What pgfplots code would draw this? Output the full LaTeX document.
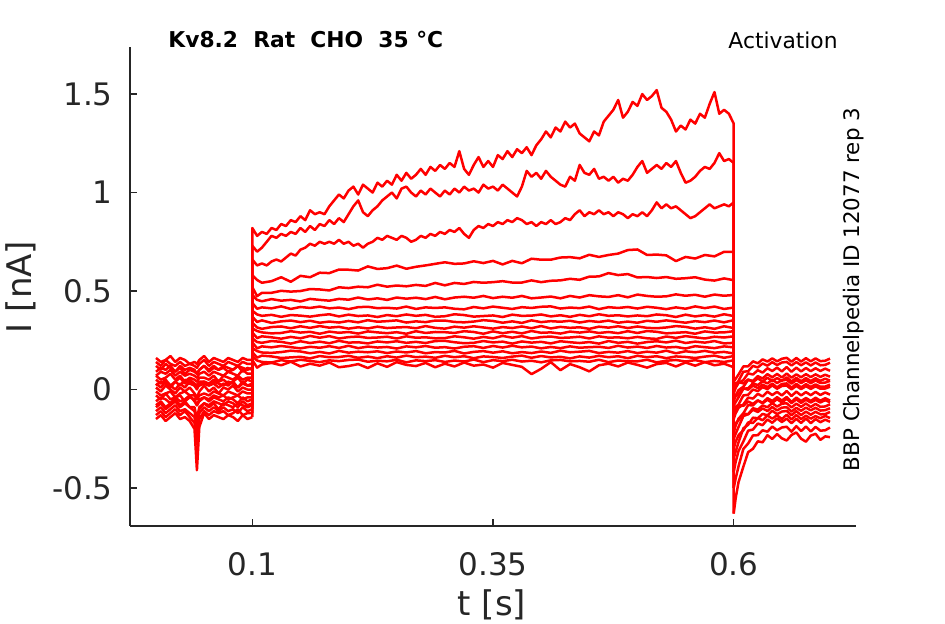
\documentclass[border=0pt]{standalone}
\usepackage{fontspec}
\setmainfont{DejaVu Sans}
\usepackage{pgfplots}
\usepackage{pgfplotstable}
\pgfplotsset{compat=1.18}
\definecolor{tc}{HTML}{262626}
\pgfplotsset{tr/.style={red, solid, line width=1.25pt, line join=round, mark=none}}

\pgfplotstableread{
x p1 p2 p3 p4 p5 p6 p7 p8 p9 p10 p11 p12 p13 p14 p15 p16 p17 p18
0.000 0.03 -0.06 0.09 -0.13 0.07 -0.01 0.14 -0.09 0.05 -0.15 0.07 0.01 -0.11 0.16 -0.03 0.12 -0.08 0.02
0.005 0.01 -0.04 0.11 -0.11 0.05 -0.03 0.12 -0.07 0.03 -0.13 0.09 -0.01 -0.09 0.14 -0.05 0.10 -0.06 0.04
0.010 0.04 -0.05 0.10 -0.14 0.06 -0.02 0.15 -0.10 0.05 -0.16 0.08 0.02 -0.12 0.15 -0.02 0.13 -0.09 0.03
0.015 0.02 -0.07 0.12 -0.12 0.08 -0.01 0.13 -0.08 0.02 -0.14 0.10 0.00 -0.10 0.17 -0.05 0.11 -0.07 0.01
0.020 0.00 -0.04 0.09 -0.10 0.05 -0.04 0.12 -0.06 0.04 -0.12 0.07 -0.02 -0.08 0.14 -0.04 0.09 -0.05 0.04
0.025 0.03 -0.06 0.11 -0.13 0.07 -0.02 0.14 -0.09 0.06 -0.15 0.09 0.01 -0.11 0.16 -0.03 0.12 -0.08 0.02
0.030 0.01 -0.05 0.08 -0.11 0.04 -0.01 0.12 -0.07 0.03 -0.14 0.07 -0.01 -0.10 0.15 -0.06 0.10 -0.06 0.05
0.035 0.04 -0.03 0.10 -0.14 0.06 -0.03 0.13 -0.09 0.05 -0.16 0.08 0.01 -0.12 0.13 -0.04 0.11 -0.09 0.03
0.040 0.02 -0.06 0.09 -0.17 0.05 -0.03 0.12 -0.11 0.03 -0.20 0.07 -0.02 -0.14 0.14 -0.05 0.10 -0.09 0.02
0.0425 0.01 -0.08 0.08 -0.28 0.04 -0.05 0.11 -0.17 0.02 -0.41 0.06 -0.04 -0.23 0.13 -0.08 0.08 -0.15 0.00
0.045 0.02 -0.06 0.10 -0.15 0.06 -0.03 0.13 -0.10 0.04 -0.19 0.08 -0.01 -0.12 0.15 -0.05 0.10 -0.09 0.03
0.050 0.03 -0.04 0.12 -0.11 0.06 -0.02 0.15 -0.07 0.04 -0.12 0.09 0.02 -0.09 0.17 -0.04 0.12 -0.07 0.04
0.055 0.02 -0.06 0.09 -0.13 0.05 -0.03 0.12 -0.09 0.03 -0.15 0.07 -0.01 -0.11 0.14 -0.05 0.10 -0.08 0.02
0.060 0.03 -0.04 0.11 -0.11 0.07 -0.01 0.14 -0.07 0.05 -0.13 0.09 0.01 -0.09 0.16 -0.03 0.12 -0.06 0.04
0.065 0.01 -0.05 0.10 -0.12 0.04 -0.02 0.13 -0.10 0.04 -0.14 0.08 -0.02 -0.11 0.15 -0.04 0.10 -0.07 0.03
0.070 0.03 -0.06 0.11 -0.11 0.07 -0.03 0.12 -0.07 0.05 -0.15 0.07 0.01 -0.09 0.14 -0.03 0.12 -0.08 0.02
0.075 0.02 -0.04 0.09 -0.13 0.06 -0.01 0.14 -0.08 0.03 -0.13 0.09 0.00 -0.11 0.16 -0.05 0.11 -0.06 0.04
0.080 0.04 -0.05 0.10 -0.12 0.05 -0.02 0.13 -0.09 0.04 -0.14 0.08 0.02 -0.10 0.15 -0.04 0.10 -0.07 0.03
0.085 0.01 -0.07 0.12 -0.10 0.07 -0.03 0.12 -0.07 0.06 -0.16 0.07 -0.01 -0.12 0.14 -0.03 0.12 -0.09 0.01
0.090 0.03 -0.04 0.09 -0.13 0.05 -0.01 0.14 -0.08 0.03 -0.13 0.10 0.01 -0.09 0.16 -0.05 0.11 -0.06 0.04
0.095 0.02 -0.06 0.11 -0.12 0.06 -0.02 0.13 -0.09 0.05 -0.15 0.08 0.00 -0.11 0.15 -0.04 0.10 -0.08 0.02
0.100 0.02 -0.05 0.10 -0.12 0.06 -0.02 0.13 -0.08 0.04 -0.14 0.08 0.00 -0.10 0.15 -0.04 0.11 -0.07 0.03
}\pre

\pgfplotstableread{
x s1 s2 s3
0.1 0.02 -0.05 0.10
0.1 0.82 0.73 0.66
0.105 0.78 0.70 0.63
0.11 0.80 0.72 0.64
0.115 0.79 0.75 0.63
0.12 0.82 0.78 0.65
0.125 0.81 0.77 0.66
0.13 0.84 0.79 0.65
0.135 0.83 0.78 0.67
0.14 0.86 0.80 0.69
0.145 0.85 0.79 0.68
0.15 0.88 0.82 0.71
0.155 0.86 0.80 0.72
0.16 0.91 0.83 0.74
0.165 0.89 0.81 0.73
0.17 0.90 0.84 0.75
0.175 0.89 0.83 0.74
0.18 0.93 0.86 0.75
0.185 0.96 0.84 0.74
0.19 0.99 0.87 0.76
0.195 0.97 0.85 0.74
0.2 1.01 0.89 0.75
0.205 1.03 0.93 0.73
0.21 0.99 0.96 0.74
0.215 1.04 0.90 0.72
0.22 1.02 0.88 0.74
0.225 1.00 0.91 0.75
0.23 1.05 0.93 0.77
0.235 1.03 0.96 0.76
0.24 1.06 0.98 0.78
0.245 1.04 1.00 0.77
0.25 1.09 0.97 0.76
0.255 1.06 1.02 0.78
0.26 1.10 1.03 0.77
0.265 1.07 1.00 0.75
0.27 1.09 0.98 0.76
0.275 1.12 1.01 0.78
0.28 1.09 0.99 0.77
0.285 1.13 1.02 0.79
0.29 1.11 1.00 0.78
0.295 1.14 0.98 0.80
0.3 1.12 1.01 0.79
0.305 1.15 0.99 0.81
0.31 1.13 1.02 0.80
0.315 1.21 1.00 0.82
0.32 1.12 1.03 0.79
0.325 1.09 1.01 0.77
0.33 1.14 1.02 0.81
0.335 1.18 1.00 0.83
0.34 1.13 1.04 0.82
0.345 1.16 1.02 0.84
0.35 1.13 1.03 0.83
0.355 1.19 1.01 0.85
0.36 1.17 1.04 0.84
0.365 1.21 1.02 0.86
0.37 1.18 1.00 0.85
0.375 1.22 0.98 0.87
0.38 1.20 1.03 0.86
0.385 1.23 1.11 0.84
0.39 1.19 1.08 0.85
0.395 1.24 1.10 0.83
0.4 1.27 1.07 0.85
0.405 1.31 1.11 0.84
0.41 1.28 1.08 0.86
0.415 1.33 1.06 0.84
0.42 1.31 1.04 0.85
0.425 1.36 1.03 0.87
0.43 1.33 1.08 0.86
0.435 1.35 1.06 0.89
0.44 1.30 1.14 0.91
0.445 1.28 1.10 0.88
0.45 1.26 1.09 0.90
0.455 1.31 1.12 0.89
0.46 1.29 1.07 0.91
0.465 1.36 1.08 0.89
0.47 1.39 1.06 0.90
0.475 1.42 1.08 0.88
0.48 1.47 1.05 0.90
0.485 1.38 1.07 0.89
0.49 1.41 1.06 0.87
0.495 1.46 1.09 0.89
0.5 1.44 1.13 0.88
0.505 1.50 1.16 0.90
0.51 1.47 1.10 0.88
0.515 1.49 1.12 0.91
0.52 1.52 1.14 0.95
0.525 1.43 1.12 0.92
0.53 1.41 1.15 0.94
0.535 1.37 1.13 0.92
0.54 1.31 1.16 0.93
0.545 1.34 1.10 0.91
0.55 1.32 1.05 0.89
0.555 1.37 1.06 0.87
0.56 1.35 1.08 0.88
0.565 1.40 1.11 0.90
0.57 1.38 1.13 0.92
0.575 1.45 1.12 0.94
0.58 1.51 1.15 0.92
0.585 1.40 1.20 0.93
0.59 1.42 1.16 0.94
0.595 1.40 1.17 0.93
0.6 1.35 1.15 0.95
0.6 -0.63 -0.50 -0.42
}\stepA

\pgfplotstableread{
x s4 s5 s6 s7 s8 s9 s10 s11 s12 s13 s14 s15 s16 s17 s18
0.1 -0.12 0.06 -0.02 0.13 -0.08 0.04 -0.14 0.08 0.00 -0.10 0.15 -0.04 0.11 -0.07 0.03
0.1 0.58 0.52 0.48 0.44 0.40 0.37 0.34 0.31 0.29 0.26 0.24 0.21 0.19 0.17 0.15
0.105 0.556 0.474 0.455 0.410 0.381 0.343 0.315 0.297 0.261 0.241 0.209 0.195 0.162 0.147 0.111
0.11 0.542 0.491 0.448 0.417 0.374 0.351 0.308 0.290 0.270 0.237 0.219 0.188 0.172 0.140 0.127
0.12 0.550 0.491 0.459 0.412 0.379 0.338 0.317 0.285 0.265 0.246 0.214 0.186 0.168 0.137 0.135
0.13 0.570 0.501 0.451 0.422 0.369 0.346 0.320 0.287 0.258 0.242 0.221 0.190 0.160 0.149 0.123
0.14 0.547 0.497 0.455 0.409 0.378 0.350 0.311 0.296 0.267 0.233 0.215 0.197 0.163 0.142 0.141
0.15 0.577 0.500 0.447 0.419 0.375 0.342 0.321 0.289 0.260 0.245 0.209 0.193 0.166 0.151 0.117
0.16 0.570 0.510 0.460 0.414 0.370 0.349 0.313 0.293 0.272 0.236 0.217 0.184 0.158 0.145 0.131
0.17 0.593 0.508 0.455 0.421 0.377 0.339 0.322 0.283 0.263 0.243 0.212 0.191 0.170 0.139 0.121
0.18 0.591 0.503 0.451 0.412 0.382 0.345 0.314 0.294 0.271 0.235 0.220 0.183 0.164 0.148 0.137
0.19 0.609 0.519 0.460 0.416 0.371 0.340 0.318 0.288 0.259 0.247 0.211 0.196 0.165 0.144 0.113
0.20 0.608 0.515 0.456 0.408 0.380 0.348 0.309 0.292 0.266 0.238 0.222 0.187 0.171 0.150 0.119
0.21 0.604 0.522 0.467 0.418 0.373 0.341 0.316 0.284 0.269 0.240 0.210 0.192 0.161 0.152 0.129
0.22 0.625 0.519 0.457 0.420 0.376 0.352 0.310 0.295 0.262 0.234 0.218 0.189 0.167 0.141 0.109
0.23 0.612 0.532 0.463 0.413 0.368 0.344 0.319 0.290 0.264 0.244 0.213 0.194 0.159 0.146 0.133
0.24 0.616 0.522 0.455 0.415 0.378 0.347 0.312 0.286 0.268 0.239 0.216 0.185 0.169 0.143 0.115
0.25 0.629 0.528 0.467 0.411 0.372 0.351 0.315 0.291 0.259 0.245 0.208 0.193 0.162 0.151 0.139
0.26 0.613 0.524 0.461 0.421 0.381 0.340 0.317 0.283 0.270 0.237 0.219 0.188 0.172 0.138 0.125
0.27 0.623 0.531 0.466 0.409 0.374 0.346 0.311 0.296 0.263 0.242 0.214 0.195 0.164 0.148 0.119
0.28 0.630 0.526 0.459 0.417 0.379 0.342 0.322 0.287 0.265 0.236 0.221 0.184 0.167 0.144 0.135
0.29 0.638 0.541 0.470 0.414 0.369 0.350 0.313 0.292 0.260 0.246 0.212 0.190 0.161 0.149 0.113
0.30 0.646 0.529 0.458 0.417 0.372 0.350 0.309 0.291 0.261 0.247 0.215 0.188 0.171 0.140 0.131
0.31 0.638 0.541 0.467 0.410 0.382 0.343 0.319 0.287 0.270 0.240 0.208 0.196 0.164 0.147 0.117
0.32 0.640 0.536 0.471 0.407 0.378 0.341 0.314 0.296 0.265 0.235 0.217 0.183 0.169 0.142 0.137
0.33 0.651 0.546 0.466 0.419 0.370 0.345 0.321 0.292 0.258 0.237 0.220 0.191 0.159 0.152 0.121
0.34 0.642 0.542 0.475 0.412 0.373 0.352 0.315 0.283 0.267 0.246 0.211 0.195 0.168 0.139 0.127
0.35 0.653 0.545 0.464 0.421 0.376 0.348 0.309 0.295 0.260 0.239 0.221 0.187 0.165 0.149 0.111
0.36 0.635 0.550 0.471 0.415 0.368 0.339 0.317 0.286 0.272 0.243 0.213 0.194 0.160 0.144 0.135
0.37 0.653 0.543 0.466 0.409 0.380 0.346 0.312 0.293 0.263 0.233 0.222 0.184 0.167 0.151 0.125
0.38 0.641 0.543 0.475 0.418 0.374 0.338 0.320 0.285 0.271 0.244 0.214 0.190 0.172 0.142 0.115
0.39 0.664 0.554 0.463 0.414 0.375 0.351 0.311 0.297 0.259 0.238 0.218 0.185 0.161 0.146 0.078
0.40 0.659 0.545 0.467 0.420 0.381 0.342 0.322 0.288 0.266 0.242 0.209 0.193 0.170 0.138 0.105
0.41 0.659 0.552 0.472 0.422 0.371 0.347 0.310 0.290 0.269 0.234 0.216 0.186 0.163 0.148 0.139
0.42 0.670 0.554 0.463 0.411 0.377 0.344 0.318 0.284 0.262 0.245 0.210 0.197 0.166 0.150 0.098
0.43 0.672 0.562 0.475 0.416 0.369 0.349 0.313 0.294 0.264 0.240 0.219 0.189 0.158 0.143 0.129
0.44 0.666 0.557 0.467 0.413 0.379 0.340 0.316 0.289 0.268 0.236 0.212 0.192 0.168 0.145 0.113
0.45 0.684 0.573 0.479 0.421 0.372 0.348 0.308 0.295 0.259 0.241 0.215 0.196 0.162 0.141 0.092
0.46 0.673 0.574 0.473 0.408 0.382 0.343 0.319 0.287 0.270 0.233 0.217 0.185 0.171 0.151 0.123
0.47 0.683 0.591 0.470 0.418 0.374 0.350 0.314 0.292 0.263 0.246 0.211 0.191 0.164 0.139 0.131
0.48 0.690 0.581 0.479 0.414 0.377 0.339 0.321 0.286 0.265 0.237 0.222 0.187 0.169 0.147 0.117
0.49 0.708 0.586 0.468 0.419 0.371 0.345 0.312 0.296 0.260 0.242 0.213 0.195 0.159 0.144 0.137
0.50 0.711 0.569 0.482 0.411 0.376 0.339 0.320 0.287 0.267 0.233 0.218 0.185 0.171 0.143 0.125
0.51 0.683 0.571 0.475 0.420 0.372 0.349 0.313 0.297 0.260 0.241 0.211 0.192 0.164 0.151 0.111
0.52 0.685 0.566 0.471 0.415 0.381 0.344 0.311 0.293 0.257 0.245 0.221 0.187 0.169 0.138 0.129
0.53 0.681 0.571 0.473 0.408 0.377 0.351 0.315 0.285 0.269 0.239 0.213 0.197 0.159 0.146 0.135
0.54 0.652 0.562 0.483 0.417 0.368 0.345 0.322 0.288 0.262 0.248 0.216 0.184 0.168 0.150 0.117
0.55 0.673 0.565 0.476 0.410 0.380 0.339 0.318 0.291 0.271 0.236 0.208 0.194 0.165 0.142 0.137
0.56 0.665 0.570 0.481 0.422 0.371 0.347 0.309 0.283 0.265 0.243 0.220 0.189 0.160 0.149 0.121
0.57 0.683 0.558 0.471 0.413 0.378 0.342 0.316 0.295 0.259 0.238 0.215 0.196 0.167 0.139 0.139
0.58 0.676 0.553 0.482 0.421 0.370 0.350 0.308 0.289 0.268 0.246 0.210 0.187 0.172 0.145 0.123
0.59 0.699 0.564 0.476 0.409 0.382 0.341 0.321 0.290 0.264 0.234 0.219 0.191 0.161 0.140 0.131
0.60 0.699 0.555 0.480 0.416 0.373 0.352 0.312 0.296 0.270 0.237 0.214 0.183 0.170 0.148 0.113
0.60 -0.35 -0.30 -0.25 -0.22 -0.18 -0.15 -0.12 -0.10 -0.08 -0.06 -0.04 -0.02 0.00 0.02 0.04
}\stepB

\pgfplotstableread{
x q1 q2 q3 q4 q5 q6 q7 q8 q9 q10 q11 q12 q13 q14 q15 q16 q17 q18
0.600 -0.63 -0.50 -0.42 -0.35 -0.30 -0.25 -0.22 -0.18 -0.15 -0.12 -0.10 -0.08 -0.06 -0.04 -0.02 0.00 0.02 0.04
0.602 -0.552 -0.452 -0.368 -0.315 -0.265 -0.225 -0.183 -0.172 -0.121 -0.103 -0.087 -0.064 -0.031 -0.035 0.008 0.017 0.031 0.054
0.605 -0.470 -0.390 -0.312 -0.268 -0.232 -0.190 -0.148 -0.156 -0.093 -0.076 -0.078 -0.040 -0.003 -0.024 0.033 0.044 0.038 0.076
0.610 -0.392 -0.302 -0.264 -0.197 -0.207 -0.135 -0.121 -0.122 -0.076 -0.030 -0.083 0.004 0.014 0.006 0.048 0.090 0.031 0.117
0.615 -0.318 -0.274 -0.209 -0.179 -0.167 -0.125 -0.079 -0.126 -0.041 -0.027 -0.061 0.006 0.049 -0.001 0.082 0.093 0.051 0.118
0.620 -0.301 -0.233 -0.203 -0.143 -0.170 -0.095 -0.081 -0.103 -0.046 0.000 -0.073 0.032 0.044 0.020 0.076 0.120 0.038 0.143
0.625 -0.263 -0.232 -0.173 -0.146 -0.145 -0.102 -0.056 -0.114 -0.022 -0.008 -0.055 0.022 0.068 0.007 0.098 0.112 0.056 0.133
0.630 -0.268 -0.207 -0.181 -0.124 -0.156 -0.081 -0.067 -0.096 -0.035 0.012 -0.070 0.042 0.056 0.025 0.086 0.132 0.041 0.153
0.635 -0.232 -0.214 -0.152 -0.131 -0.132 -0.090 -0.044 -0.109 -0.011 0.002 -0.052 0.031 0.078 0.012 0.108 0.121 0.060 0.142
0.640 -0.251 -0.188 -0.169 -0.108 -0.148 -0.069 -0.058 -0.089 -0.028 0.021 -0.068 0.050 0.062 0.030 0.094 0.139 0.043 0.158
0.645 -0.226 -0.207 -0.147 -0.125 -0.131 -0.087 -0.039 -0.106 -0.012 0.004 -0.049 0.033 0.079 0.011 0.111 0.124 0.058 0.143
0.650 -0.248 -0.193 -0.165 -0.112 -0.150 -0.072 -0.056 -0.092 -0.030 0.018 -0.066 0.047 0.061 0.028 0.092 0.137 0.044 0.156
0.655 -0.259 -0.189 -0.148 -0.109 -0.128 -0.070 -0.038 -0.090 -0.008 0.020 -0.047 0.049 0.081 0.031 0.114 0.140 0.062 0.161
0.660 -0.231 -0.214 -0.171 -0.131 -0.152 -0.091 -0.063 -0.112 -0.033 0.001 -0.069 0.030 0.060 0.009 0.090 0.122 0.041 0.141
0.665 -0.218 -0.186 -0.149 -0.110 -0.130 -0.072 -0.041 -0.093 -0.011 0.018 -0.050 0.048 0.077 0.029 0.111 0.139 0.059 0.160
0.670 -0.250 -0.211 -0.170 -0.130 -0.150 -0.088 -0.059 -0.108 -0.030 0.002 -0.068 0.033 0.062 0.011 0.092 0.123 0.042 0.142
0.675 -0.265 -0.188 -0.147 -0.112 -0.133 -0.071 -0.043 -0.092 -0.013 0.017 -0.052 0.047 0.078 0.027 0.109 0.138 0.058 0.159
0.680 -0.234 -0.213 -0.171 -0.128 -0.148 -0.089 -0.058 -0.106 -0.029 0.003 -0.066 0.032 0.063 0.013 0.093 0.122 0.043 0.143
0.685 -0.225 -0.190 -0.150 -0.113 -0.135 -0.073 -0.042 -0.093 -0.012 0.016 -0.053 0.046 0.077 0.026 0.108 0.137 0.057 0.158
0.690 -0.256 -0.209 -0.166 -0.126 -0.146 -0.088 -0.057 -0.107 -0.028 0.004 -0.066 0.033 0.064 0.014 0.094 0.123 0.044 0.144
0.695 -0.238 -0.207 -0.153 -0.125 -0.134 -0.086 -0.044 -0.105 -0.015 0.005 -0.054 0.035 0.075 0.015 0.106 0.125 0.055 0.146
0.700 -0.242 -0.193 -0.164 -0.114 -0.145 -0.075 -0.056 -0.095 -0.026 0.014 -0.065 0.044 0.065 0.025 0.095 0.136 0.045 0.157
}\post

\begin{document}
\begin{tikzpicture}
\path[use as bounding box] (-65pt,-49pt) rectangle (407.5pt,263pt);
\begin{axis}[
  at={(0,0)}, anchor=south west,
  scale only axis, width=363pt, height=239.5pt,
  xmin=-0.027, xmax=0.727, ymin=-0.693, ymax=1.739,
  axis x line*=bottom, axis y line*=left,
  tick align=inside, major tick length=3.5pt,
  xtick={0.1,0.35,0.6}, xticklabels={0.1,0.35,0.6},
  ytick={-0.5,0,0.5,1,1.5}, yticklabels={-0.5,0,0.5,1,1.5},
  ticklabel style={font=\fontsize{15.5}{18}\selectfont, text=tc},
  xticklabel style={anchor=north, inner sep=0pt, yshift=-13pt},
  yticklabel style={anchor=east, inner sep=0pt, xshift=-8.5pt},
  axis line style={tc, line width=0.6pt},
  tick style={tc, line width=0.6pt},
  xlabel={t [s]}, ylabel={I [nA]},
  label style={font=\fontsize{17}{20}\selectfont, text=tc},
  xlabel style={at={(axis description cs:0.4986,-0.165)}, anchor=center},
  ylabel style={at={(axis description cs:-0.150,0.499)}, anchor=center},
]
\pgfplotsinvokeforeach{1,...,18}{\addplot[tr] table[x=x,y=p#1]{\pre};}
\pgfplotsinvokeforeach{1,...,3}{\addplot[tr] table[x=x,y=s#1]{\stepA};}
\pgfplotsinvokeforeach{4,...,18}{\addplot[tr] table[x=x,y=s#1]{\stepB};}
\pgfplotsinvokeforeach{1,...,18}{\addplot[tr] table[x=x,y=q#1]{\post};}
\end{axis}
\node[anchor=west, inner sep=0pt, font=\fontsize{10.9}{13}\selectfont\bfseries] at (19pt,243pt) {Kv8.2\ \ Rat\ \ CHO\ \ 35\ °C};
\node[anchor=east, inner sep=0pt, font=\fontsize{10.9}{13}\selectfont] at (354pt,243pt) {Activation};
\node[rotate=90, anchor=center, inner sep=0pt, font=\fontsize{10.7}{13}\selectfont] at (361.75pt,118.25pt) {BBP Channelpedia ID 12077 rep 3};
\end{tikzpicture}
\end{document}
